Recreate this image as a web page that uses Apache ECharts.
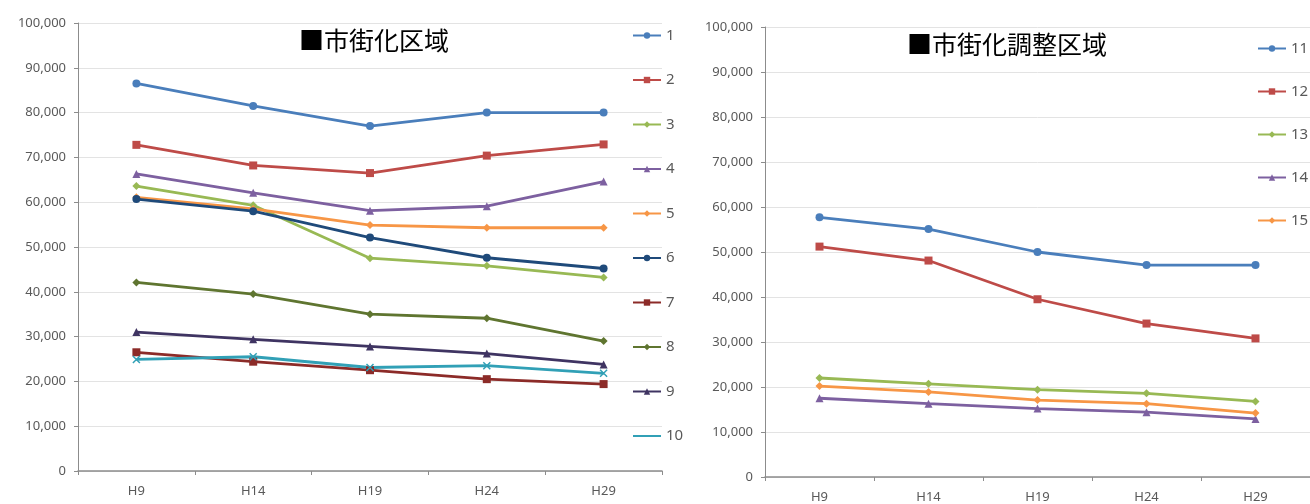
<!DOCTYPE html>
<html>
<head>
<meta charset="utf-8">
<title>市街化区域</title>
<style>
html, body { margin: 0; padding: 0; background: #fff; }
#main { width: 1310px; height: 504px; }
</style>
</head>
<body>
<div id="main"></div>
<script src="https://cdn.jsdelivr.net/npm/echarts@6/dist/echarts.min.js"></script>
<script>
// 年次
var years = ['H9', 'H14', 'H19', 'H24', 'H29'];

// 市街化区域 (1-10)
var s1  = [86500, 81500, 77000, 80000, 80000];
var s2  = [72800, 68200, 66500, 70400, 72900];
var s3  = [63600, 59300, 47500, 45800, 43200];
var s4  = [66300, 62100, 58100, 59100, 64600];
var s5  = [61100, 58500, 54900, 54300, 54300];
var s6  = [60700, 58000, 52100, 47600, 45200];
var s7  = [26500, 24400, 22500, 20500, 19400];
var s8  = [42100, 39500, 35000, 34100, 29000];
var s9  = [31000, 29400, 27800, 26200, 23800];
var s10 = [24900, 25500, 23100, 23500, 21800];

// 市街化調整区域 (11-15)
var s11 = [57700, 55100, 50000, 47100, 47100];
var s12 = [51200, 48100, 39500, 34100, 30800];
var s13 = [22000, 20700, 19400, 18600, 16800];
var s14 = [17500, 16300, 15200, 14400, 12900];
var s15 = [20200, 18900, 17100, 16300, 14200];

var namesL = ['1', '2', '3', '4', '5', '6', '7', '8', '9', '10'];
var dataL = [s1, s2, s3, s4, s5, s6, s7, s8, s9, s10];
var colorsL = ['#4a7ebb', '#be4b48', '#98b954', '#7d60a0', '#f79646',
               '#1f4a7a', '#8c2b28', '#5f7530', '#3f3462', '#31a0b6'];
var symbolsL = ['circle', 'rect', 'diamond', 'triangle', 'diamond',
                'circle', 'rect', 'diamond', 'triangle', 'path://M0,0L10,10M10,0L0,10'];

var namesR = ['11', '12', '13', '14', '15'];
var dataR = [s11, s12, s13, s14, s15];
var colorsR = ['#4a7ebb', '#be4b48', '#98b954', '#7d60a0', '#f79646'];
var symbolsR = ['circle', 'rect', 'diamond', 'triangle', 'diamond'];

var chart = echarts.init(document.getElementById('main'));

function yAxisOf(idx) {
    return {
        gridIndex: idx,
        type: 'value',
        min: 0,
        max: 100000,
        interval: 10000,
        axisLine: { show: true, lineStyle: { color: '#8c8c8c', width: 1 } },
        axisTick: { show: true, length: 4, lineStyle: { color: '#8c8c8c' } },
        axisLabel: {
            margin: 12,
            color: '#595959',
            fontSize: 13,
            fontFamily: 'Noto Sans',
            formatter: function (v) { return v.toLocaleString('en-US'); }
        },
        splitLine: { lineStyle: { color: '#e3e3e3', width: 1 } }
    };
}

function xAxisOf(idx) {
    return {
        gridIndex: idx,
        type: 'category',
        data: years,
        boundaryGap: true,
        axisLine: { show: true, lineStyle: { color: '#8c8c8c', width: 1.5 } },
        axisTick: { show: true, length: 4, lineStyle: { color: '#8c8c8c' } },
        axisLabel: { margin: 14, color: '#595959', fontSize: 13, fontFamily: 'Noto Sans' }
    };
}

var series = [];
dataL.forEach(function (d, i) {
    series.push({
        name: namesL[i], type: 'line', xAxisIndex: 0, yAxisIndex: 0,
        data: d, symbol: symbolsL[i], symbolSize: i === 9 ? 7 : 8,
        showAllSymbol: true,
        itemStyle: { color: colorsL[i], borderColor: colorsL[i], borderWidth: i === 9 ? 1.5 : 0 },
        lineStyle: { color: colorsL[i], width: 2.8 },
        animation: false
    });
});
dataR.forEach(function (d, i) {
    series.push({
        name: namesR[i], type: 'line', xAxisIndex: 1, yAxisIndex: 1,
        data: d, symbol: symbolsR[i], symbolSize: 8,
        itemStyle: { color: colorsR[i] },
        lineStyle: { color: colorsR[i], width: 2.8 },
        animation: false
    });
});

var legendText = { color: '#595959', fontSize: 15, fontFamily: 'Noto Sans' };

var option = {
    backgroundColor: '#ffffff',
    animation: false,
    title: [
        { text: '■市街化区域', left: 294, top: 23,
          textStyle: { fontFamily: 'Noto Sans CJK JP', fontSize: 25, fontWeight: 'normal', color: '#000' } },
        { text: '■市街化調整区域', left: 902, top: 27,
          textStyle: { fontFamily: 'Noto Sans CJK JP', fontSize: 25, fontWeight: 'normal', color: '#000' } }
    ],
    legend: [
        { data: namesL, orient: 'vertical', left: 627, top: 23, height: 460, itemWidth: 28, itemHeight: 8,
          itemGap: 29.5, textStyle: legendText, itemStyle: { borderWidth: 0 } },
        { data: namesR, orient: 'vertical', left: 1252, top: 36, height: 300, itemWidth: 28, itemHeight: 8,
          itemGap: 28, textStyle: legendText, itemStyle: { borderWidth: 0 } }
    ],
    grid: [
        { left: 78, top: 23, width: 584, height: 448 },
        { left: 765, top: 27, width: 550, height: 451 }
    ],
    xAxis: [xAxisOf(0), xAxisOf(1)],
    yAxis: [yAxisOf(0), yAxisOf(1)],
    series: series
};

chart.setOption(option);
</script>
</body>
</html>
